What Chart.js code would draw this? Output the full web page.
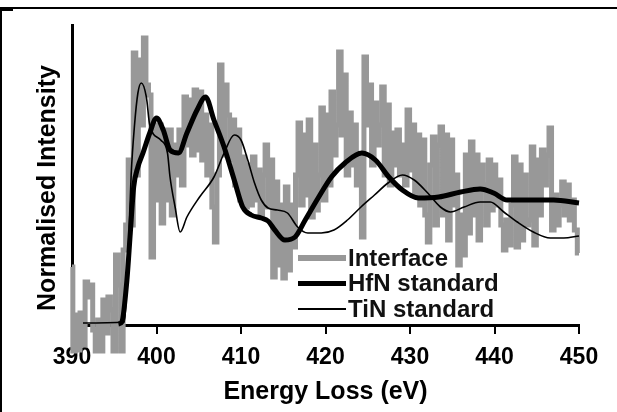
<!DOCTYPE html>
<html>
<head>
<meta charset="utf-8">
<script src="https://cdn.jsdelivr.net/npm/chart.js@4/dist/chart.umd.min.js"></script>
<style>
  html,body{margin:0;padding:0;background:#fff;}
  #wrap{position:relative;width:617px;height:412px;overflow:hidden;}
  #frameTop{position:absolute;left:0;top:7px;width:617px;height:2px;background:#000;}
  #frameLeft{position:absolute;left:0;top:10px;width:2px;height:402px;background:#000;}
  #frameTick{position:absolute;left:0;top:9px;width:13px;height:2px;background:#000;}
  canvas{position:absolute;left:0;top:0;}
</style>
</head>
<body>
<div id="wrap">
  <canvas id="grafico" width="617" height="412"></canvas>
  <div id="frameTop"></div>
  <div id="frameLeft"></div>
  <div id="frameTick"></div>
</div>
<script>
//datos (energia en eV, intensidad en unidades arbitrarias)
const tituloX='Energy Loss (eV)';
const tituloY='Normalised Intensity';
const nombres=['Interface','HfN standard','TiN standard'];

const energiaInterface=[390.0,390.2,390.5,390.8,391.1,391.4,391.7,392.0,392.3,392.6,392.9,393.2,393.5,393.8,394.1,394.4,394.7,395.0,395.3,395.6,395.9,396.2,396.5,396.8,397.1,397.4,397.7,398.0,398.3,398.6,398.9,399.2,399.5,399.8,400.1,400.4,400.7,401.0,401.3,401.6,401.9,402.2,402.5,402.8,403.1,403.4,403.7,404.0,404.3,404.6,404.9,405.2,405.5,405.8,406.1,406.4,406.7,407.0,407.3,407.6,407.9,408.2,408.5,408.8,409.1,409.4,409.7,410.0,410.3,410.6,410.9,411.2,411.5,411.8,412.1,412.4,412.7,413.0,413.3,413.6,413.9,414.2,414.5,414.8,415.1,415.4,415.7,416.0,416.3,416.6,416.9,417.2,417.5,417.8,418.1,418.4,418.7,419.0,419.3,419.6,419.9,420.2,420.5,420.8,421.1,421.4,421.7,422.0,422.3,422.6,422.9,423.2,423.5,423.8,424.1,424.4,424.7,425.0,425.3,425.6,425.9,426.2,426.5,426.8,427.1,427.4,427.7,428.0,428.3,428.6,428.9,429.2,429.5,429.8,430.1,430.4,430.7,431.0,431.3,431.6,431.9,432.2,432.5,432.8,433.1,433.4,433.7,434.0,434.3,434.6,434.9,435.2,435.5,435.8,436.1,436.4,436.7,437.0,437.3,437.6,437.9,438.2,438.5,438.8,439.1,439.4,439.7,440.0,440.3,440.6,440.9,441.2,441.5,441.8,442.1,442.4,442.7,443.0,443.3,443.6,443.9,444.2,444.5,444.8,445.1,445.4,445.7,446.0,446.3,446.6,446.9,447.2,447.5,447.8,448.1,448.4,448.7,449.0,449.3,449.6,450.0];
const valoresInterface=[58,-26,10,-25,12,-20,43,28,40,-5,-26,5,-26,25,-8,28,15,-26,70,40,-26,75,100,165,100,272,150,265,200,287,240,230,68,200,125,200,102,195,125,195,110,180,150,195,140,228,180,225,170,235,175,233,165,210,150,200,118,83,150,260,170,240,210,165,205,140,195,125,168,118,160,120,168,125,155,110,150,180,118,165,48,143,60,120,47,138,55,120,78,150,202,120,190,130,205,108,180,115,150,217,125,210,140,233,170,200,273,190,250,150,212,160,200,140,170,88,268,200,240,160,222,180,200,238,150,220,140,192,160,195,150,180,140,215,155,200,130,190,120,185,110,83,160,188,100,180,198,110,190,85,185,120,150,60,110,70,170,92,183,110,170,85,160,140,100,165,115,160,120,145,100,75,105,80,120,168,78,160,85,150,100,105,178,80,165,110,175,140,170,197,95,130,100,120,143,110,140,105,125,95,72];

const energiaHfN=[395.5,395.9,396.5,396.9,397.3,397.8,398.4,399.2,400.0,400.8,401.6,402.6,403.6,404.8,405.8,406.8,408.0,409.2,410.2,411.2,412.4,413.2,414.0,415.2,416.4,417.6,419.2,420.7,422.3,424.3,425.9,427.5,429.1,431.0,433.4,436.0,438.3,439.9,441.5,443.8,447.0,450.0];
const valoresHfN=[1,3,45,92,138,158,172,192,207,195,175,172,192,215,228,205,178,145,118,110,107,104,95,85,88,105,128,148,162,172,165,148,135,127,128,133,136,132,125,125,125,122];

const energiaTiN=[391.3,396.2,396.6,397.0,397.4,397.8,398.2,398.8,399.2,400.5,401.3,401.6,402.2,402.8,403.6,405.1,406.8,408.0,409.2,410.0,410.8,411.6,412.4,413.2,414.3,415.5,416.7,417.9,419.5,421.0,422.6,424.2,425.8,427.4,429.1,430.5,432.1,433.6,434.8,436.4,438.3,439.5,441.1,442.7,444.6,446.6,448.2,450.0];
const valoresTiN=[2,3,60,150,200,232,242,228,200,185,172,148,118,93,108,128,148,172,190,185,165,142,125,117,115,112,98,92,92,95,105,118,130,142,150,145,132,118,113,118,123,123,113,103,93,87,87,89];

const ticksX=[390,400,410,420,430,440,450];

const fuente='"Liberation Sans", Arial, sans-serif';

function puntos(xs,ys)
{
    return xs.map((x,i)=>({x:x,y:ys[i]}));
}

//titulo del eje y y leyenda dentro del area
const extras={
    id:'extras',
    afterDatasetsDraw(chart)
    {
        const ctx=chart.ctx;
        ctx.save();
        ctx.translate(48,188);
        ctx.rotate(-Math.PI/2);
        ctx.font='bold 25px '+fuente;
        ctx.textAlign='center';
        ctx.textBaseline='middle';
        ctx.fillStyle='#000';
        ctx.fillText(tituloY,0,0);
        ctx.restore();

        ctx.save();
        ctx.font='bold 24px '+fuente;
        ctx.textBaseline='middle';
        ctx.fillStyle='#111';
        chart.data.datasets.forEach((ds,i)=>
        {
            const y=258+i*25.5;
            ctx.strokeStyle=ds.borderColor;
            ctx.lineWidth=ds.legendWidth;
            ctx.beginPath();
            ctx.moveTo(298,y);
            ctx.lineTo(346,y);
            ctx.stroke();
            ctx.fillText(ds.label,348,y+1);
        });
        ctx.restore();
    }
};

new Chart(document.getElementById('grafico'),{
    type:'line',
    data:{
        datasets:[
            {label:nombres[0],data:puntos(energiaInterface,valoresInterface),borderColor:'#989898',borderWidth:5,legendWidth:6,order:3,clip:false,stepped:'middle'},
            {label:nombres[1],data:puntos(energiaHfN,valoresHfN),borderColor:'#000',borderWidth:5,legendWidth:5,order:2,clip:false,cubicInterpolationMode:'monotone'},
            {label:nombres[2],data:puntos(energiaTiN,valoresTiN),borderColor:'#000',borderWidth:1.6,legendWidth:2,order:1,clip:false,cubicInterpolationMode:'monotone'}
        ]
    },
    options:{
        responsive:false,
        animation:false,
        layout:{padding:{left:0,right:38,top:25,bottom:0}},
        elements:{point:{radius:0},line:{borderJoinStyle:'miter'}},
        plugins:{legend:{display:false},tooltip:{enabled:false}},
        scales:{
            x:{
                type:'linear',
                min:390,
                max:450,
                afterFit:s=>{s.height=87;},
                afterBuildTicks:s=>{s.ticks=ticksX.map(v=>({value:v}));},
                ticks:{color:'#000',font:{family:fuente,size:23,weight:'bold'},padding:10,maxRotation:0},
                grid:{drawOnChartArea:false,tickLength:9,color:'#000',lineWidth:2},
                border:{color:'#000',width:3},
                title:{display:true,text:tituloX,color:'#000',font:{family:fuente,size:25,weight:'bold'},padding:{top:0,bottom:5}}
            },
            y:{
                min:0,
                max:300,
                afterFit:s=>{s.width=72;},
                ticks:{display:false},
                grid:{display:false},
                border:{color:'#000',width:3}
            }
        }
    },
    plugins:[extras]
});
</script>
</body>
</html>
